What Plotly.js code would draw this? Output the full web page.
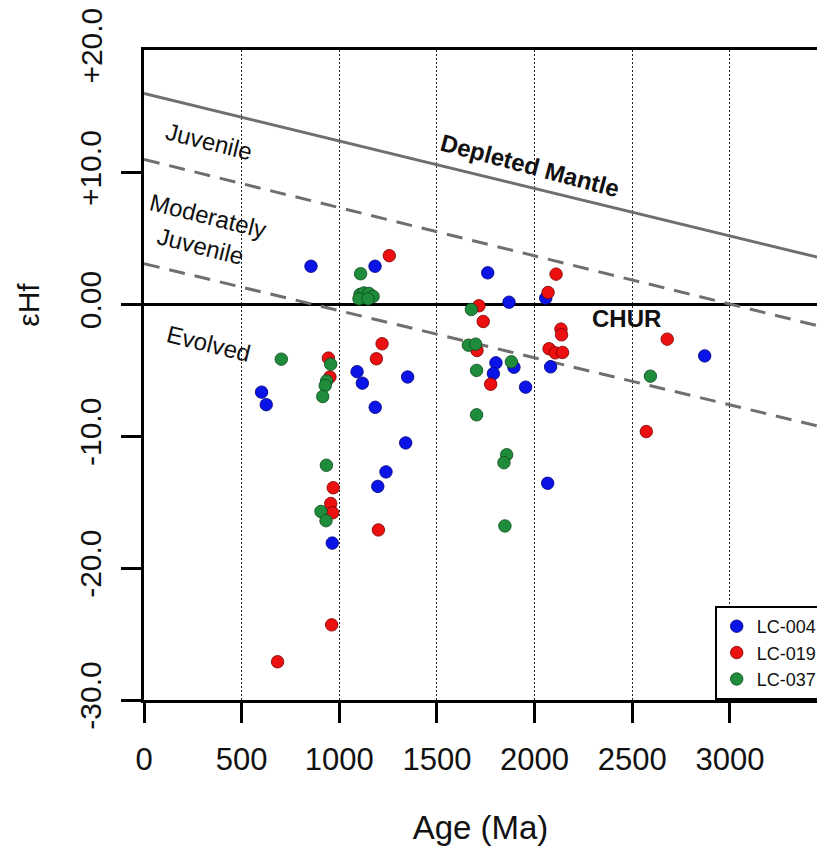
<!DOCTYPE html>
<html><head><meta charset="utf-8">
<script src="https://cdn.plot.ly/plotly-3.0.1.min.js"></script>
<style>body{margin:0;background:#fff}</style>
</head><body><div id="chart" style="width:817px;height:846px"></div>
<script>
// ---- data ----
const lc004Age = [855, 1183, 1760, 1869, 2057, 602, 626, 1091, 1118, 1350, 1184, 1340, 1239, 1197, 964, 1802, 1789, 1894, 1954, 2082, 2067, 2871];
const lc004Hf  = [2.9, 2.9, 2.4, 0.17, 0.48, -6.65, -7.6, -5.1, -5.97, -5.5, -7.8, -10.5, -12.7, -13.8, -18.1, -4.43, -5.24, -4.76, -6.27, -4.73, -13.56, -3.9];

const lc019Age = [1256, 1219, 1190, 944, 952, 969, 956, 966, 1200, 961, 684, 2110, 2069, 1715, 1737, 1705, 1775, 2135, 2138, 2074, 2106, 2143, 2679, 2572];
const lc019Hf  = [3.7, -2.98, -4.12, -4.07, -5.5, -13.9, -15.1, -15.8, -17.1, -24.3, -27.1, 2.3, 0.91, -0.1, -1.29, -3.49, -6.05, -1.87, -2.3, -3.36, -3.67, -3.64, -2.63, -9.64];

const lc037Age = [1109, 1106, 1126, 1152, 1173, 1101, 1147, 703, 956, 935, 928, 915, 934, 906, 932, 1676, 1661, 1698, 1703, 1881, 1703, 1857, 1843, 1848, 2593];
const lc037Hf  = [2.33, 0.76, 0.87, 0.83, 0.61, 0.42, 0.42, -4.15, -4.53, -5.8, -6.15, -6.98, -12.2, -15.7, -16.4, -0.38, -3.09, -3.01, -5.0, -4.35, -8.37, -11.4, -12.0, -16.8, -5.44];

// reference evolution lines (end points)
const refAge   = [0, 3500];
const dmHf     = [16.0, 3.4];
const juvHf    = [11.0, -1.8];
const evolvHf  = [3.1, -9.4];

const xTickVals = [0, 500, 1000, 1500, 2000, 2500, 3000];
const xTickText = ['0', '500', '1000', '1500', '2000', '2500', '3000'];
const yTickVals = [-30, -20, -10, 0, 10];
const yTickText = ['-30.0', '-20.0', '-10.0', '0.00', '+10.0'];
const yTopLabel = '+20.0';

const seriesNames = ['LC-004', 'LC-019', 'LC-037'];

// ---- styles ----
const FONT = 'Liberation Sans, Arial, Helvetica, sans-serif';
const refLine = {color: '#6f6f6f', width: 3};

const traces = [
  {x: refAge, y: dmHf, mode: 'lines', line: refLine, showlegend: false, hoverinfo: 'skip'},
  {x: refAge, y: juvHf, mode: 'lines', line: Object.assign({dash: '16px,10px'}, refLine), showlegend: false, hoverinfo: 'skip'},
  {x: refAge, y: evolvHf, mode: 'lines', line: Object.assign({dash: '16px,10px'}, refLine), showlegend: false, hoverinfo: 'skip'},
  {x: lc004Age, y: lc004Hf, mode: 'markers', name: seriesNames[0],
   marker: {size: 12.5, color: '#0a14e6', line: {color: '#00007a', width: 0.8}}},
  {x: lc019Age, y: lc019Hf, mode: 'markers', name: seriesNames[1],
   marker: {size: 12.5, color: '#ec1010', line: {color: '#7a0000', width: 0.8}}},
  {x: lc037Age, y: lc037Hf, mode: 'markers', name: seriesNames[2],
   marker: {size: 12.5, color: '#1f8c3b', line: {color: '#0b4a1c', width: 0.8}}}
];

const ann = (text, x, y, size, angle, bold) => ({
  text: bold ? '<b>' + text + '</b>' : text, x: x, y: y, xref: 'x', yref: 'y',
  showarrow: false, textangle: angle, font: {family: FONT, size: size, color: '#111'}
});

const layout = {
  width: 817, height: 846,
  margin: {l: 144, r: 0, t: 50, b: 146, autoexpand: false},
  paper_bgcolor: '#fff', plot_bgcolor: '#fff',
  font: {family: FONT, color: '#111'},
  showlegend: true,
  legend: {
    x: 0.848, xanchor: 'left', y: 0, yanchor: 'bottom',
    bgcolor: '#fff', bordercolor: '#000', borderwidth: 2,
    font: {family: FONT, size: 18, color: '#111'},
    tracegroupgap: 0, itemwidth: 30
  },
  xaxis: {
    range: [0, 3446], autorange: false,
    tickmode: 'array', tickvals: xTickVals, ticktext: xTickText,
    ticks: 'outside', ticklen: 20, tickwidth: 2.5, tickcolor: '#000',
    ticklabelstandoff: 10,
    tickfont: {family: FONT, size: 31, color: '#111'},
    showline: true, linecolor: '#000', linewidth: 3, mirror: true,
    showgrid: true, gridcolor: '#222', gridwidth: 1, griddash: '2px,2px',
    zeroline: false,
    title: {text: 'Age (Ma)', font: {family: FONT, size: 33, color: '#111'}, standoff: 48}
  },
  yaxis: {
    range: [-30, 19.3], autorange: false,
    tickmode: 'array', tickvals: yTickVals, ticktext: yTickText,
    ticks: 'outside', ticklen: 20, tickwidth: 2.5, tickcolor: '#000',
    tickangle: -90, ticklabelstandoff: 8,
    tickfont: {family: FONT, size: 30, color: '#111'},
    showline: true, linecolor: '#000', linewidth: 3,
    showgrid: false,
    zeroline: true, zerolinecolor: '#000', zerolinewidth: 3
  },
  annotations: [
    ann('Juvenile', 333, 12.37, 24, 14, false),
    ann('Moderately<br>Juvenile', 312, 5.61, 24, 14, false),
    ann('Evolved', 328, -2.96, 24, 14, false),
    ann('Depleted Mantle', 1976, 10.55, 24, 15, true),
    ann('CHUR', 2468, -1.06, 24, 0, true),
    {text: yTopLabel, xref: 'paper', yref: 'paper', x: -0.078, y: 1.006, xanchor: 'center', yanchor: 'middle',
     showarrow: false, textangle: -90, font: {family: FONT, size: 30, color: '#111'}},
    {text: 'εHf', xref: 'paper', yref: 'y', x: -0.172, y: 0, xanchor: 'center', yanchor: 'middle',
     showarrow: false, textangle: -90, font: {family: FONT, size: 30, color: '#111'}}
  ]
};

Plotly.newPlot('chart', traces, layout, {displayModeBar: false, responsive: false});
</script>
</body></html>
